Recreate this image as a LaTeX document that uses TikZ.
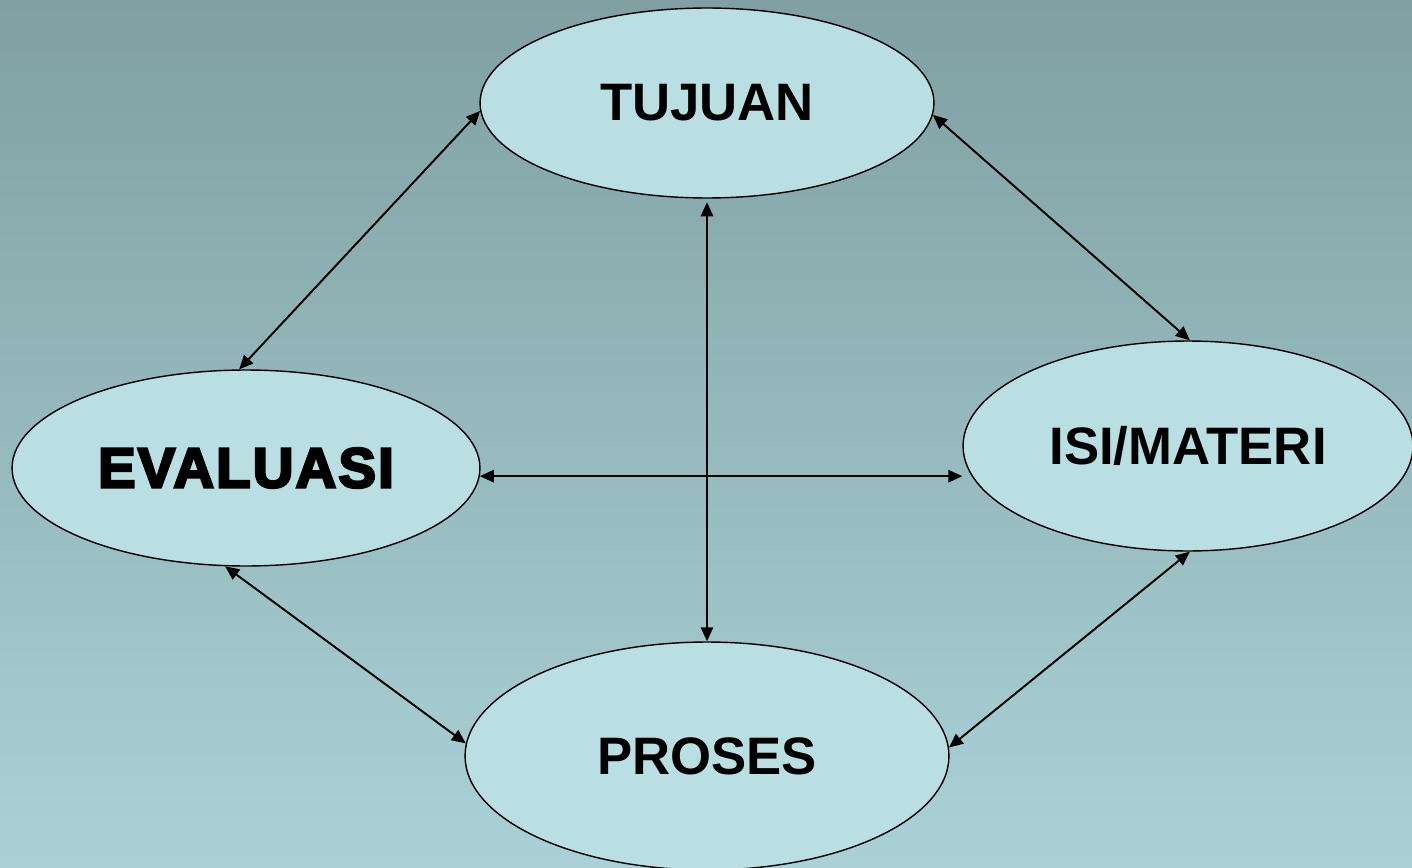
\documentclass[tikz,border=0pt]{standalone}
\usepackage{fontspec}
\setmainfont{Liberation Sans}
\newfontfamily\heavyfont{Liberation Sans}[BoldFeatures={FakeBold=4.5,LetterSpace=4}]
\usetikzlibrary{shapes.geometric,arrows.meta}
\definecolor{bgtop}{HTML}{80A0A3}
\definecolor{bgbottom}{HTML}{AAD2D6}
\definecolor{bubble}{HTML}{B9DFE3}
\begin{document}
\begin{tikzpicture}[x=0.02cm,y=-0.02cm,
  bubble/.style={ellipse,draw=black,line width=0.8pt,fill=bubble,inner sep=0pt,
    font=\fontsize{30}{36}\selectfont\bfseries},
  link/.style={line width=1.1pt,{Triangle[length=8pt,width=7pt]}-{Triangle[length=8pt,width=7pt]}}]
  % background
  \shade[top color=bgtop,bottom color=bgbottom] (0,0) rectangle (1412,868);
  \useasboundingbox (0,0) rectangle (1412,868);
  % four components
  \node[bubble,minimum width=9.08cm,minimum height=3.8cm] (tujuan) at (707,103) {TUJUAN};
  \node[bubble,minimum width=9.36cm,minimum height=3.92cm,
        font=\fontsize{32}{38}\heavyfont\bfseries] (evaluasi) at (246,468) {EVALUASI};
  \node[bubble,minimum width=9.0cm,minimum height=4.2cm] (isi) at (1188,446) {ISI/MATERI};
  \node[bubble,minimum width=9.68cm,minimum height=4.56cm] (proses) at (707,756) {PROSES};
  % relations
  \draw[link] (tujuan.182.5) -- (evaluasi.94.6);
  \draw[link] (tujuan.357.5) -- (isi.89);
  \draw[link,shorten <=2pt] (tujuan.south) -- (proses.north);
  \draw[link] (evaluasi.-2) -- (evaluasi.-2 -| isi.west);
  \draw[link] (evaluasi.258) -- (proses.177.6);
  \draw[link] (isi.271) -- (proses.2.6);
\end{tikzpicture}
\end{document}
